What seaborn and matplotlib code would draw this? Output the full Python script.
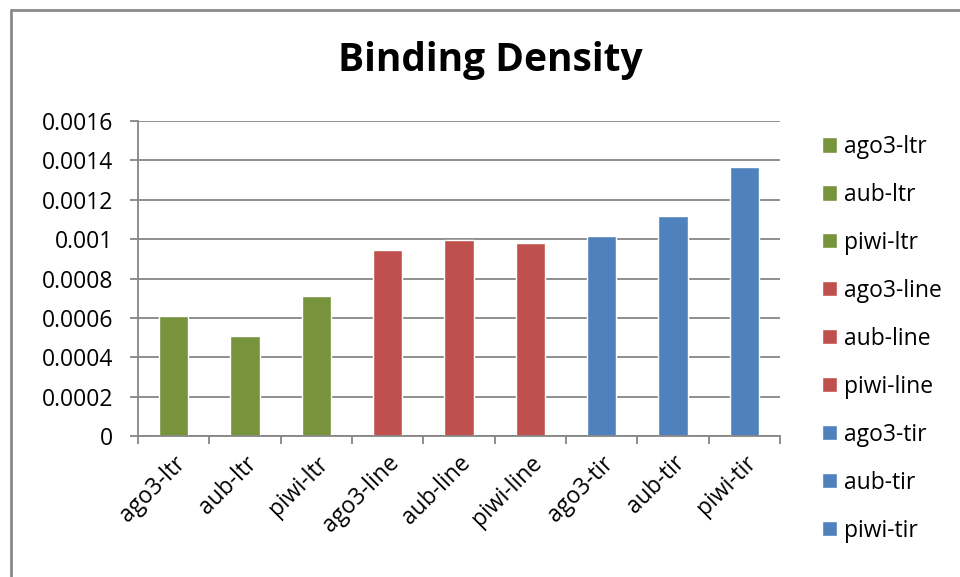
import matplotlib
matplotlib.use("Agg")
import matplotlib.pyplot as plt
import seaborn as sns
import pandas as pd
from matplotlib.lines import Line2D
from matplotlib.ticker import FixedLocator, FixedFormatter

categories = ["ago3-ltr", "aub-ltr", "piwi-ltr", "ago3-line", "aub-line",
              "piwi-line", "ago3-tir", "aub-tir", "piwi-tir"]
values = [0.000612, 0.000510, 0.000713, 0.000943, 0.000997,
          0.000978, 0.001017, 0.001116, 0.001367]
colors = ["#77933C", "#77933C", "#77933C", "#C0504D", "#C0504D",
          "#C0504D", "#4F81BD", "#4F81BD", "#4F81BD"]
y_ticks = [0, 0.0002, 0.0004, 0.0006, 0.0008, 0.001, 0.0012, 0.0014, 0.0016]
y_tick_labels = ["0", "0.0002", "0.0004", "0.0006", "0.0008", "0.001",
                 "0.0012", "0.0014", "0.0016"]
title = "Binding Density"

sns.set_theme(style="white")
plt.rcParams["font.family"] = ["Open Sans", "DejaVu Sans"]
plt.rcParams["text.color"] = "black"
plt.rcParams["xtick.color"] = "black"
plt.rcParams["ytick.color"] = "black"

df = pd.DataFrame({"category": categories, "value": values})

W, H = 960, 577
fig = plt.figure(figsize=(W / 100, H / 100), dpi=100)
ax = fig.add_axes([138 / W, (H - 436) / H, 642 / W, 315 / H])

sns.barplot(data=df, x="category", y="value", hue="category",
            palette=colors, width=0.41, saturation=1, ax=ax, legend=True)

grey = "#868686"
ax.set_xlim(-0.5, len(categories) - 0.5)
ax.set_ylim(0, 0.0016)
ax.yaxis.set_major_locator(FixedLocator(y_ticks))
ax.yaxis.set_major_formatter(FixedFormatter(y_tick_labels))
ax.grid(axis="y", color=grey, linewidth=1.3)
ax.set_axisbelow(True)
for s in ["top", "right"]:
    ax.spines[s].set_visible(False)
for s in ["left", "bottom"]:
    ax.spines[s].set_color(grey)
    ax.spines[s].set_linewidth(1.3)

ax.set_xlabel("")
ax.set_ylabel("")
ax.tick_params(axis="y", which="major", length=6, width=1.3, color=grey,
               direction="out", left=True, labelsize=16.5, pad=12,
               labelcolor="black")
ax.set_xticks(range(len(categories)))
ax.set_xticklabels(categories, rotation=45, ha="right",
                   rotation_mode="anchor", fontsize=16.5)
ax.tick_params(axis="x", which="major", length=0, pad=11, labelcolor="black")
ax.set_xticks([i - 0.5 for i in range(len(categories) + 1)], minor=True)
ax.tick_params(axis="x", which="minor", length=6, width=1.3, color=grey,
               direction="out", bottom=True)

sns.move_legend(ax, loc="upper left", bbox_to_anchor=(822 / W, 1 - 135 / H),
                bbox_transform=fig.transFigure, frameon=False, title=None,
                fontsize=16.5, labelspacing=1.045, handlelength=0.65,
                handleheight=0.65, handletextpad=0.3, borderaxespad=0,
                borderpad=0)
for t in ax.get_legend().get_texts():
    t.set_color("black")

fig.text(490 / W, 1 - 61 / H, title, ha="center", va="center",
         fontsize=28, fontweight="bold", color="black")

fig.add_artist(Line2D([11 / W, 11 / W], [1 - 10 / H, 0], color="#8a8a8a",
                      linewidth=2, transform=fig.transFigure))
fig.add_artist(Line2D([11 / W, 1], [1 - 10 / H, 1 - 10 / H], color="#8a8a8a",
                      linewidth=2, transform=fig.transFigure))

fig.savefig("out.png", dpi=100)
